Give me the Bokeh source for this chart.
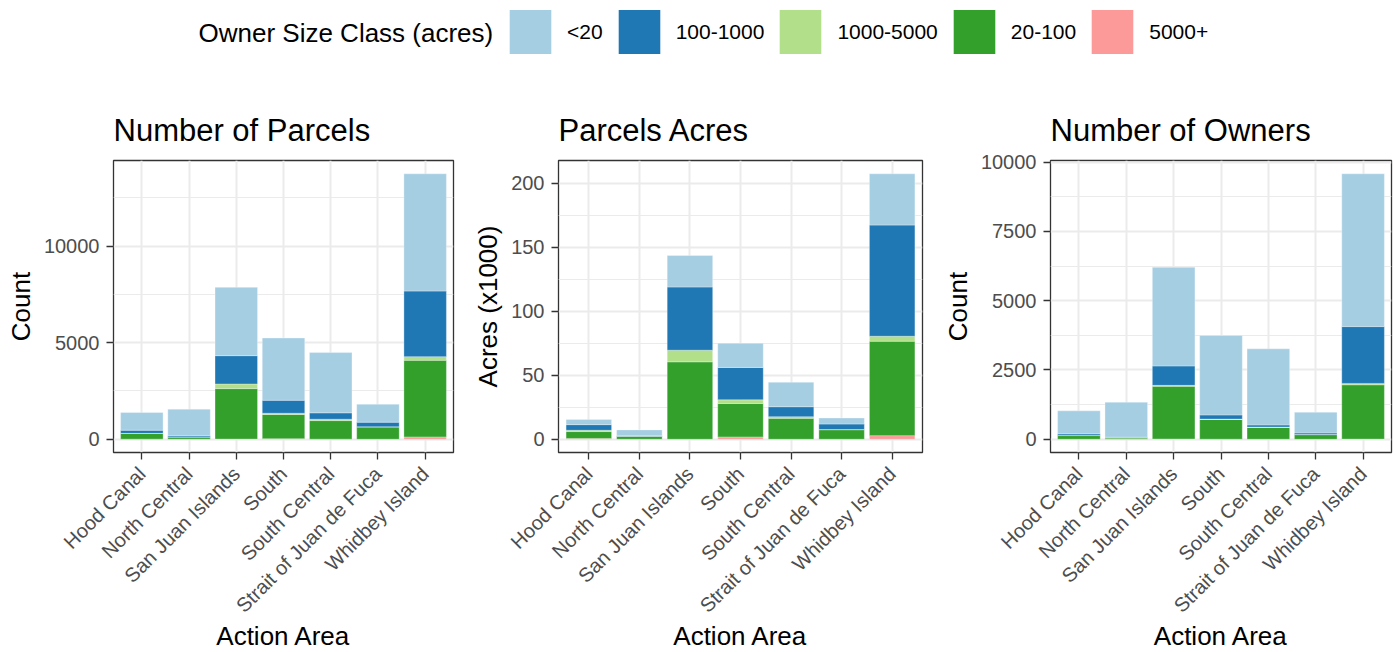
import math
from bokeh.plotting import figure
from bokeh.layouts import column, row
from bokeh.models import (ColumnDataSource, FactorRange, Range1d, FixedTicker,
                          Legend, LegendItem, Label)
from bokeh.embed import file_html
from bokeh.resources import INLINE

FONT = "Liberation Sans"

areas = ["Hood Canal", "North Central", "San Juan Islands", "South",
         "South Central", "Strait of Juan de Fuca", "Whidbey Island"]

classes = ["<20", "100-1000", "1000-5000", "20-100", "5000+"]
colors = {"<20": "#A6CEE3", "100-1000": "#1F78B4", "1000-5000": "#B2DF8A",
          "20-100": "#33A02C", "5000+": "#FB9A99"}
stack_order = ["5000+", "20-100", "1000-5000", "100-1000", "<20"]

# Number of Parcels
parcels_lt20 = [920, 1380, 3535, 3225, 3120, 930, 6070]
parcels_100_1000 = [160, 60, 1465, 670, 330, 240, 3395]
parcels_1000_5000 = [10, 5, 240, 65, 70, 10, 190]
parcels_20_100 = [290, 110, 2610, 1250, 960, 630, 3965]
parcels_5000p = [5, 2, 10, 30, 5, 2, 120]

# Parcel acres (x1000)
acres_lt20 = [4.1, 4.6, 24.6, 18.9, 19.1, 4.7, 40.1]
acres_100_1000 = [4.4, 0.3, 49.4, 25.3, 7.8, 4.3, 86.9]
acres_1000_5000 = [1.0, 0.1, 9.1, 2.9, 1.3, 0.2, 3.9]
acres_20_100 = [5.4, 2.3, 60.5, 26.1, 16.3, 7.4, 73.8]
acres_5000p = [0.6, 0.0, 0.0, 1.8, 0.0, 0.0, 2.8]

# Number of Owners
owners_lt20 = [830, 1260, 3560, 2865, 2745, 745, 5515]
owners_100_1000 = [60, 25, 700, 150, 75, 60, 2050]
owners_1000_5000 = [3, 2, 35, 15, 15, 3, 50]
owners_20_100 = [130, 48, 1900, 710, 425, 165, 1960]
owners_5000p = [1, 0, 10, 2, 1, 0, 5]

parcels_ticks = [0, 5000, 10000]
parcels_minor = [2500, 7500, 12500]
acres_ticks = [0, 50, 100, 150, 200]
acres_minor = [25, 75, 125, 175]
owners_ticks = [0, 2500, 5000, 7500, 10000]
owners_minor = [1250, 3750, 6250, 8750]


def make_panel(title, ylabel, vals, ticks, minor, left, frame_w, right):
    data = {"area": areas}
    data.update(vals)
    src = ColumnDataSource(data)
    totals = [sum(vals[c][i] for c in classes) for i in range(len(areas))]
    ymax = max(totals)
    p = figure(x_range=FactorRange(*areas, range_padding=0.1,
                                   range_padding_units="absolute"),
               y_range=Range1d(-0.05 * ymax, 1.05 * ymax),
               frame_width=frame_w, frame_height=292,
               min_border_left=left, min_border_right=right,
               min_border_top=88, min_border_bottom=190,
               output_backend="svg", toolbar_location=None, title=title)
    p.vbar_stack(stack_order, x="area", width=0.9, source=src,
                 color=[colors[c] for c in stack_order],
                 line_color="white", line_width=0.6, line_alpha=0.5)
    p.title.text_font = FONT
    p.title.text_font_size = "31px"
    p.title.text_font_style = "normal"
    p.title.text_color = "black"
    p.title.standoff = 25
    p.outline_line_color = "#333333"
    p.outline_line_width = 1.3
    p.background_fill_color = "white"
    p.border_fill_color = "white"

    p.yaxis.ticker = FixedTicker(ticks=ticks, minor_ticks=minor)
    for ax in (p.xaxis[0], p.yaxis[0]):
        ax.axis_line_color = None
        ax.major_tick_line_color = "#333333"
        ax.major_tick_line_width = 1.3
        ax.major_tick_out = 7
        ax.major_tick_in = 0
        ax.minor_tick_out = 0
        ax.minor_tick_in = 0
        ax.major_label_text_font = FONT
        ax.major_label_text_font_size = "20px"
        ax.major_label_text_color = "#4D4D4D"
        ax.axis_label_text_font = FONT
        ax.axis_label_text_font_size = "26px"
        ax.axis_label_text_font_style = "normal"
        ax.axis_label_text_color = "black"
    p.yaxis.axis_label = ylabel
    p.yaxis.major_label_standoff = 7
    p.yaxis.axis_label_standoff = 5
    p.xaxis.axis_label = "Action Area"
    p.xaxis.major_label_orientation = math.pi / 4
    p.xaxis.major_label_standoff = 11
    p.xaxis.axis_label_standoff = -6

    p.xgrid.grid_line_color = "#EBEBEB"
    p.xgrid.grid_line_width = 2
    p.ygrid.grid_line_color = "#EBEBEB"
    p.ygrid.grid_line_width = 2
    p.ygrid.minor_grid_line_color = "#EBEBEB"
    p.ygrid.minor_grid_line_width = 1
    return p


p1 = make_panel("Number of Parcels", "Count",
                {"<20": parcels_lt20, "100-1000": parcels_100_1000,
                 "1000-5000": parcels_1000_5000, "20-100": parcels_20_100,
                 "5000+": parcels_5000p},
                parcels_ticks, parcels_minor, 113, 340, 12)
p2 = make_panel("Parcels Acres", "Acres (x1000)",
                {"<20": acres_lt20, "100-1000": acres_100_1000,
                 "1000-5000": acres_1000_5000, "20-100": acres_20_100,
                 "5000+": acres_5000p},
                acres_ticks, acres_minor, 93, 364, 9)
p3 = make_panel("Number of Owners", "Count",
                {"<20": owners_lt20, "100-1000": owners_100_1000,
                 "1000-5000": owners_1000_5000, "20-100": owners_20_100,
                 "5000+": owners_5000p},
                owners_ticks, owners_minor, 119, 341, 4)

# Legend strip (dummy renderers sit outside the visible range)
pl = figure(width=1396, height=72, x_range=Range1d(0, 1), y_range=Range1d(0, 1),
            output_backend="svg", toolbar_location=None,
            min_border=0)
pl.axis.visible = False
pl.grid.visible = False
pl.outline_line_color = None
items = []
for c in classes:
    r = pl.vbar(x=[5], top=[5], bottom=[4], width=0.1, fill_color=colors[c],
                line_color=None)
    items.append(LegendItem(label=c, renderers=[r]))
leg = Legend(items=items, orientation="horizontal", location=(504, 13),
             glyph_width=52, glyph_height=55, label_standoff=11, spacing=10,
             padding=0, margin=0, border_line_color=None,
             background_fill_alpha=0, label_text_font=FONT,
             label_text_font_size="21px", label_text_color="black",
             label_text_baseline="middle")
pl.add_layout(leg)
pl.add_layout(Label(x=198, y=40, x_units="screen", y_units="screen",
                    text="Owner Size Class (acres)", text_font=FONT,
                    text_font_size="26px", text_baseline="middle",
                    text_color="black"))

layout = column(pl, row(p1, p2, p3))
open("out.html", "w").write(file_html(layout, INLINE))
